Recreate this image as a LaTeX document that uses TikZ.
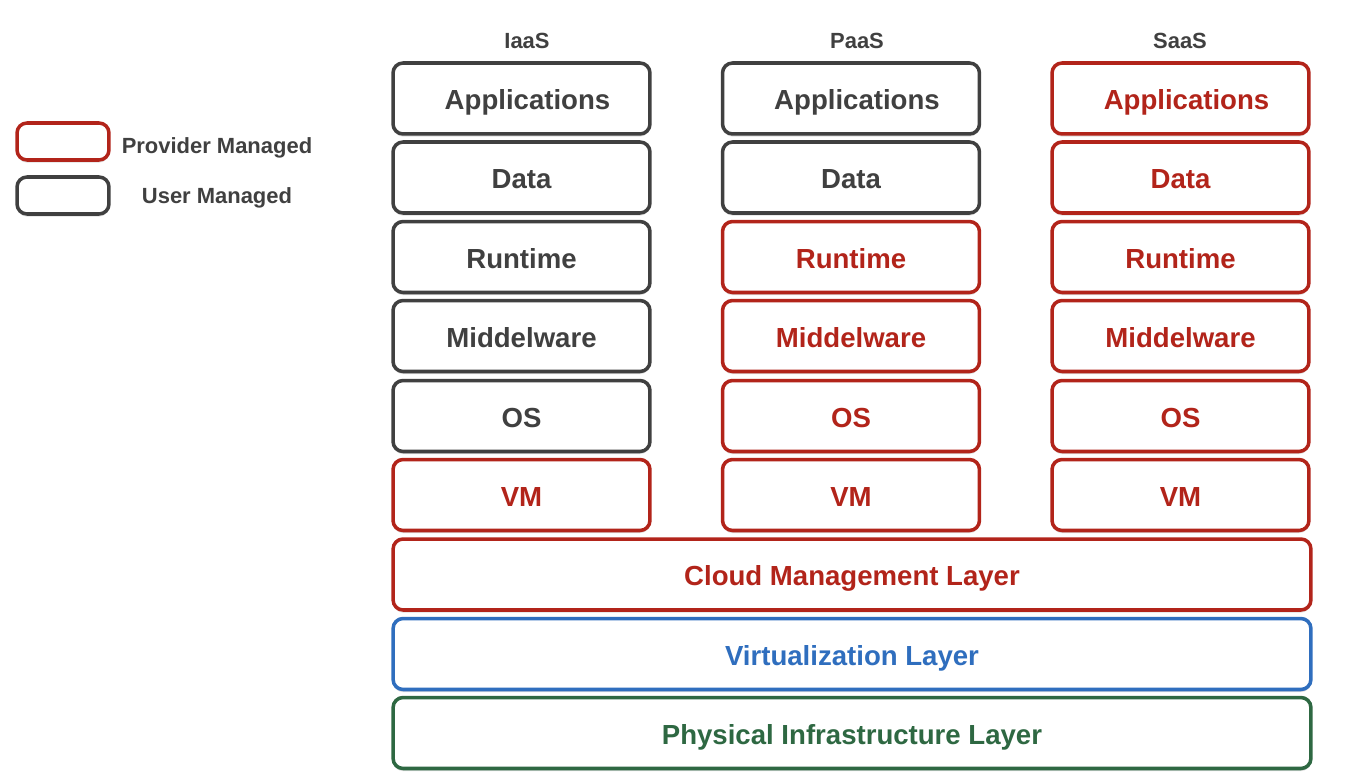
\documentclass[tikz,border=0pt]{standalone}
\usepackage{fontspec}
\setmainfont{Liberation Sans}
\usetikzlibrary{shadows}

\definecolor{provred}{RGB}{178,36,26}
\definecolor{usergray}{RGB}{64,64,64}
\definecolor{virtblue}{RGB}{47,110,190}
\definecolor{physgreen}{RGB}{46,104,66}

\tikzset{
  layerbox/.style={draw, fill=white, rounded corners=0.2cm, line width=2pt,
    drop shadow={shadow xshift=0pt, shadow yshift=-1.5pt, opacity=0.25},
    text height=13pt, text depth=0pt,
    font=\fontsize{15.7}{18}\selectfont\bfseries},
  cellbox/.style={layerbox, minimum width=5.14cm, minimum height=1.42cm},
  widebox/.style={layerbox, minimum width=18.36cm, minimum height=1.42cm},
  keybox/.style={layerbox, minimum width=1.84cm, minimum height=0.74cm},
  prov/.style={draw=provred, text=provred},
  user/.style={draw=usergray, text=usergray},
  headtext/.style={text=usergray, font=\fontsize{12.5}{15}\selectfont\bfseries}
}

\begin{document}
\begin{tikzpicture}[x=0.02cm, y=-0.02cm]
  \useasboundingbox (0,0) rectangle (1346,784);

  % legend
  \node[keybox, prov] (kp) at (63,141.5) {};
  \node[keybox, user] (ku) at (63,195.5) {};
  \node[headtext] (kpt) at (217,147.5) {Provider Managed};
  \node[headtext] (kut) at (217,197.5) {User Managed};

  % headers
  \node[headtext] (hi) at (527,41) {IaaS};
  \node[headtext] (hp) at (857,41) {PaaS};
  \node[headtext] (hs) at (1180,41) {SaaS};

  % IaaS
  \begin{scope}[every node/.style={cellbox}]
    \node[user] (i1) at (521.5,98.5) {\hspace{0.24cm}Applications};
    \node[user] (i2) at (521.5,177.5) {Data};
    \node[user] (i3) at (521.5,257) {Runtime};
    \node[user] (i4) at (521.5,336) {Middelware};
    \node[user] (i5) at (521.5,416) {OS};
    \node[prov] (i6) at (521.5,495) {VM};
  \end{scope}

  % PaaS
  \begin{scope}[every node/.style={cellbox}]
    \node[user] (p1) at (851,98.5) {\hspace{0.24cm}Applications};
    \node[user] (p2) at (851,177.5) {Data};
    \node[prov] (p3) at (851,257) {Runtime};
    \node[prov] (p4) at (851,336) {Middelware};
    \node[prov] (p5) at (851,416) {OS};
    \node[prov] (p6) at (851,495) {VM};
  \end{scope}

  % SaaS
  \begin{scope}[every node/.style={cellbox}]
    \node[prov] (s1) at (1180.5,98.5) {\hspace{0.24cm}Applications};
    \node[prov] (s2) at (1180.5,177.5) {Data};
    \node[prov] (s3) at (1180.5,257) {Runtime};
    \node[prov] (s4) at (1180.5,336) {Middelware};
    \node[prov] (s5) at (1180.5,416) {OS};
    \node[prov] (s6) at (1180.5,495) {VM};
  \end{scope}

  % shared layers
  \begin{scope}[every node/.style={widebox}]
    \node[prov] (cml) at (852,574.5) {Cloud Management Layer};
    \node[draw=virtblue, text=virtblue] (vl) at (852,654) {Virtualization Layer};
    \node[draw=physgreen, text=physgreen] (pil) at (852,733) {Physical Infrastructure Layer};
  \end{scope}

\end{tikzpicture}
\end{document}
